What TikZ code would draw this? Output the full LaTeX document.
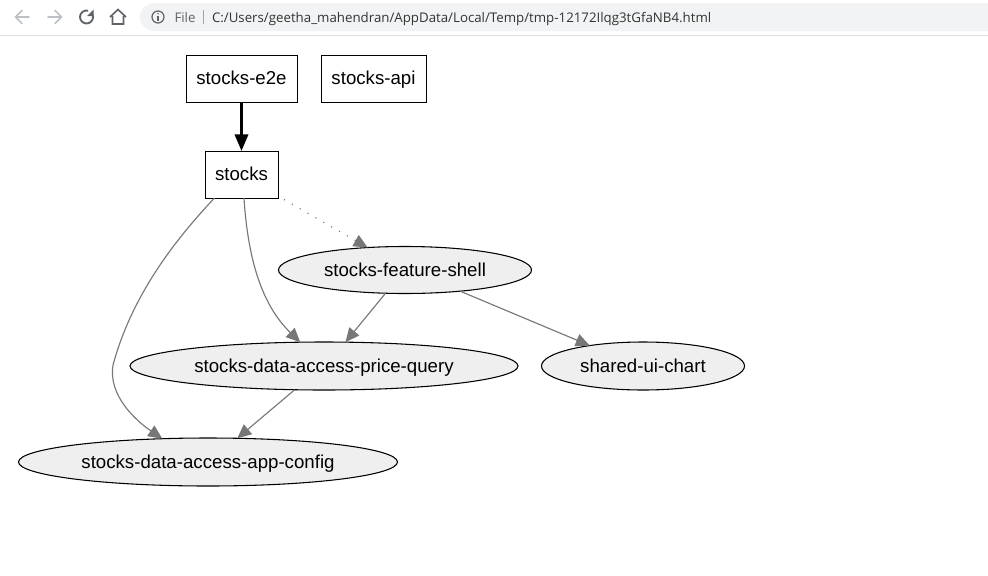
\documentclass[tikz,border=0pt]{standalone}
\usepackage{fontspec}
\setmainfont{Liberation Sans}
\newfontfamily\urlfont{Open Sans}
\usetikzlibrary{arrows.meta,shapes.geometric}
\definecolor{edgegrey}{HTML}{777777}
\definecolor{fillgrey}{HTML}{EFEFEF}
\definecolor{barbg}{HTML}{F1F3F4}
\definecolor{navoff}{HTML}{BDC1C6}
\definecolor{navon}{HTML}{5F6368}
\definecolor{urlgrey}{HTML}{5F6368}
\tikzset{
  boxnode/.style={draw=black,line width=0.7pt,rectangle,inner sep=0pt,outer sep=0pt,text height=11.05pt,text depth=1.95pt,font=\fontsize{14}{16}\selectfont},
  ovalnode/.style={draw=black,line width=0.8pt,ellipse,fill=fillgrey,inner sep=0pt,outer sep=0pt,text height=11.05pt,text depth=1.95pt,font=\fontsize{14}{16}\selectfont},
  depedge/.style={draw=edgegrey,line width=0.85pt,-{Triangle[length=10.5pt,width=9.5pt,fill=edgegrey]}},
  dotedge/.style={depedge,dash pattern=on 0.8pt off 6pt},
  strongedge/.style={draw=black,line width=1.9pt,-{Triangle[length=12.5pt,width=10pt,fill=black]}},
  navicon/.style={line width=1.2pt,line cap=round,line join=round},
  urltext/.style={inner sep=0pt,outer sep=0pt,anchor=base west,font=\urlfont\fontsize{9.96}{12}\selectfont},
}
\begin{document}
\begin{tikzpicture}[x=0.75pt,y=-0.75pt]
\useasboundingbox (0,0) rectangle (988,575);
\fill[white] (0,0) rectangle (988,575);
% browser chrome
\fill[barbg,rounded corners=10.5pt] (140,3) rectangle (1020,31);
\draw[draw=black!12,line width=0.75pt] (0,35.5) -- (988,35.5);
% back / forward
\draw[navicon,navoff] (29,17) -- (16,17) (22,10.5) -- (15.5,17) -- (22,23.5);
\draw[navicon,navoff] (48,17) -- (61,17) (55,10.5) -- (61.5,17) -- (55,23.5);
% reload
\draw[navon,line width=1.4pt] (91.5,12.8) arc (-40:285:6.5);
\fill[navon] (93.5,9.5) -- (93.5,16) -- (87,16) -- cycle;
% home
\draw[navon,line width=1.2pt,line join=miter] (110,17) -- (118,9.5) -- (126,17) (112.5,16) -- (112.5,24) -- (123.5,24) -- (123.5,16);
% info
\draw[navon,line width=0.9pt] (158,17) circle (6);
\fill[navon] (158,13.7) circle (0.8);
\draw[navon,line width=1pt] (158,16) -- (158,20.8);
\node[urltext,text=urlgrey] (filelabel) at (174.5,22) {File};
\draw[draw=black!35,line width=0.6pt] (203,10) -- (203,24);
\node[urltext,text=black!80] (urllabel) at (212,22) {C:/Users/geetha\_mahendran/AppData/Local/Temp/tmp-12172Ilqg3tGfaNB4.html};
% graph nodes
\node[boxnode,minimum width=83.25pt,minimum height=35.25pt] (e2e) at (241.5,78.5) {stocks-e2e};
\node[boxnode,minimum width=78.75pt,minimum height=35.25pt] (api) at (373.5,78.5) {stocks-api};
\node[boxnode,minimum width=54.75pt,minimum height=35.25pt] (stocks) at (241.5,174.5) {stocks};
\node[ovalnode,minimum width=189.75pt,minimum height=35.25pt] (shell) at (405,270) {stocks-feature-shell};
\node[ovalnode,minimum width=291pt,minimum height=36pt] (price) at (324,366) {stocks-data-access-price-query};
\node[ovalnode,minimum width=152.25pt,minimum height=36pt] (chart) at (643,366) {shared-ui-chart};
\node[ovalnode,minimum width=284.25pt,minimum height=36pt] (config) at (208,462) {stocks-data-access-app-config};
% edges
\draw[strongedge] (e2e.south) -- (stocks.north);
\coordinate (bulge) at (113,365);
\draw[depedge] (stocks.221.6) .. controls (175,240) and (132,295) .. (bulge) .. controls (108,395) and (135,420) .. (config.153);
\draw[depedge] (stocks.-84) .. controls (248,260) and (262,305) .. (price.135);
\draw[dotedge] (stocks.south east) ++(6,1.5) coordinate (dotstart) (dotstart) -- (shell.149);
\draw[depedge] (shell.230.7) -- (price.48.7);
\draw[depedge] (shell.-21) -- (chart.159);
\draw[depedge] (price.219) -- (config.39);
\end{tikzpicture}
\end{document}
